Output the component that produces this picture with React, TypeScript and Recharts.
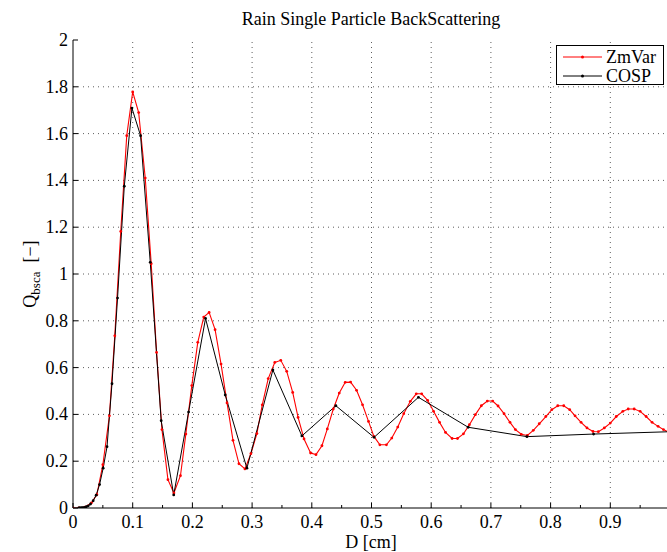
import React from 'react';
import { LineChart, Line, XAxis, YAxis, ReferenceLine, Legend } from 'recharts';

// ZmVar (red) – diameter [cm] and backscattering efficiency
const zmVarD = [
  0, 0.01, 0.02, 0.031, 0.04, 0.05, 0.061, 0.07, 0.08, 0.09,
  0.1, 0.11, 0.121, 0.131, 0.14, 0.149, 0.159, 0.169, 0.18, 0.189,
  0.199, 0.209, 0.219, 0.228, 0.238, 0.248, 0.258, 0.268, 0.278, 0.288,
  0.298, 0.308, 0.317, 0.327, 0.338, 0.348, 0.358, 0.368, 0.377, 0.387,
  0.398, 0.407, 0.417, 0.426, 0.436, 0.446, 0.456, 0.465, 0.475, 0.485,
  0.495, 0.504, 0.514, 0.525, 0.534, 0.544, 0.554, 0.565, 0.575, 0.584,
  0.594, 0.604, 0.614, 0.624, 0.635, 0.644, 0.654, 0.664, 0.674, 0.684,
  0.694, 0.703, 0.712, 0.722, 0.732, 0.741, 0.751, 0.761, 0.771, 0.781,
  0.792, 0.802, 0.812, 0.822, 0.832, 0.841, 0.851, 0.861, 0.871, 0.88,
  0.89, 0.9, 0.91, 0.921, 0.93, 0.94, 0.95, 0.96, 0.97, 0.98,
  0.989, 0.999,
];
const zmVarQ = [
  0, 0.0003, 0.004, 0.022, 0.057, 0.185, 0.394, 0.736, 1.182, 1.591,
  1.778, 1.69, 1.41, 1.044, 0.665, 0.335, 0.121, 0.064, 0.138, 0.316,
  0.523, 0.708, 0.816, 0.836, 0.762, 0.615, 0.449, 0.289, 0.189, 0.167,
  0.232, 0.318, 0.441, 0.553, 0.622, 0.631, 0.584, 0.494, 0.387, 0.295,
  0.235, 0.228, 0.266, 0.338, 0.423, 0.491, 0.537, 0.538, 0.503, 0.441,
  0.37, 0.306, 0.27, 0.27, 0.299, 0.346, 0.403, 0.456, 0.488, 0.488,
  0.46, 0.413, 0.366, 0.323, 0.297, 0.297, 0.317, 0.356, 0.399, 0.437,
  0.457, 0.457, 0.436, 0.403, 0.366, 0.335, 0.315, 0.31, 0.332, 0.36,
  0.391, 0.42, 0.437, 0.437, 0.42, 0.394, 0.366, 0.342, 0.327, 0.326,
  0.342, 0.363, 0.391, 0.413, 0.423, 0.423, 0.413, 0.391, 0.366, 0.349,
  0.335, 0.322,
];

// COSP (black)
const cospD = [
  0.0098, 0.0112, 0.0128, 0.0147, 0.0169, 0.0194, 0.0223, 0.0256, 0.0294, 0.0338,
  0.0388, 0.0445, 0.0505, 0.057, 0.0653, 0.0746, 0.0859, 0.0987, 0.1132, 0.1294,
  0.1477, 0.1687, 0.1936, 0.222, 0.255, 0.2913, 0.3348, 0.3834, 0.4403, 0.5043,
  0.5786, 0.662, 0.7604, 0.872, 1.0,
];
const cospQ = [
  0.0002, 0.0003, 0.0005, 0.001, 0.0017, 0.003, 0.0053, 0.0095, 0.017, 0.031,
  0.055, 0.1, 0.17, 0.262, 0.531, 0.897, 1.375, 1.709, 1.591, 1.05,
  0.373, 0.056, 0.41, 0.81, 0.483, 0.17, 0.59, 0.308, 0.437, 0.302,
  0.473, 0.345, 0.305, 0.316, 0.326,
];

const xTicks = [0, 0.05, 0.1, 0.15, 0.2, 0.25, 0.3, 0.35, 0.4, 0.45, 0.5, 0.55, 0.6, 0.65, 0.7, 0.75, 0.8, 0.85, 0.9, 0.95, 1];
const xGrid = [0.1, 0.2, 0.3, 0.4, 0.5, 0.6, 0.7, 0.8, 0.9];
const yTicks = [0, 0.2, 0.4, 0.6, 0.8, 1, 1.2, 1.4, 1.6, 1.8, 2];
const yGrid = [0.2, 0.4, 0.6, 0.8, 1, 1.2, 1.4, 1.6, 1.8];

const seriesNames = ['ZmVar', 'COSP'];
const seriesColors = ['#ff0000', '#000000'];

const zmVar = zmVarD.map((d, i) => ({ d, q: zmVarQ[i] }));
const cosp = cospD.map((d, i) => ({ d, q: cospQ[i] }));

const serif = "'Liberation Serif', 'DejaVu Serif', serif";
const txt: React.CSSProperties = { fontFamily: serif, fill: '#000', color: '#000' };
const isMajor = (v: number) => Math.abs(v * 10 - Math.round(v * 10)) < 1e-6;
const fmt = (v: number) => String(Number(v.toFixed(1)));

const BottomTick = (props: any) => {
  const { x, y, payload } = props;
  const v = payload.value;
  const major = isMajor(v);
  return (
    <g>
      <line x1={x} y1={y} x2={x} y2={y - (major ? 5 : 3)} stroke="#000" />
      {major && v < 0.95 && (
        <text x={x} y={y + 20} textAnchor="middle" style={{ ...txt, fontSize: 18 }}>
          {fmt(v)}
        </text>
      )}
    </g>
  );
};

const TopTick = (props: any) => {
  const { x, y, payload } = props;
  const major = isMajor(payload.value);
  return <line x1={x} y1={y} x2={x} y2={y + (major ? 5 : 3)} stroke="#000" />;
};

const LeftTick = (props: any) => {
  const { x, y, payload } = props;
  return (
    <g>
      <line x1={x} y1={y} x2={x + 5} y2={y} stroke="#000" />
      <text x={x - 5} y={y + 6} textAnchor="end" style={{ ...txt, fontSize: 18 }}>
        {fmt(payload.value)}
      </text>
    </g>
  );
};

const RightTick = (props: any) => {
  const { x, y } = props;
  return <line x1={x} y1={y} x2={x - 5} y2={y} stroke="#000" />;
};

const renderLegend = () => (
  <div
    style={{
      border: '1px solid #000',
      background: '#fff',
      width: 108,
      height: 40,
      boxSizing: 'border-box',
      paddingTop: 2,
    }}
  >
    {seriesNames.map((name, i) => (
      <div key={name} style={{ display: 'flex', alignItems: 'center', height: 18.5 }}>
        <svg width={40} height={10} style={{ marginLeft: 6 }}>
          <line x1={0} y1={5} x2={39} y2={5} stroke={seriesColors[i]} strokeWidth={1} />
          <circle cx={19.5} cy={5} r={1.5} fill={seriesColors[i]} />
        </svg>
        <span style={{ ...txt, marginLeft: 3, fontSize: 18, lineHeight: '18px' }}>{name}</span>
      </div>
    ))}
  </div>
);

const RedDot = (props: any) => <circle key={props.index} cx={props.cx} cy={props.cy} r={1.4} fill="#ff0000" />;
const BlackDot = (props: any) => <circle key={props.index} cx={props.cx} cy={props.cy} r={1.4} fill="#000" />;

export default function App() {
  return (
    <div style={{ position: 'absolute', left: 0, top: 0, width: 667, height: 552, overflow: 'hidden', background: '#fff' }}>
      <div
        style={{
          ...txt,
          position: 'absolute',
          left: 0,
          top: 9,
          width: 742,
          textAlign: 'center',
          fontSize: 18,
          lineHeight: '20px',
          zIndex: 2,
        }}
      >
        Rain Single Particle BackScattering
      </div>
      <div
        style={{
          ...txt,
          position: 'absolute',
          left: 0,
          top: 533,
          width: 742,
          textAlign: 'center',
          fontSize: 18,
          lineHeight: '18px',
          zIndex: 2,
        }}
      >
        D [cm]
      </div>
      <div
        style={{
          ...txt,
          position: 'absolute',
          left: -20,
          top: 262,
          width: 100,
          height: 24,
          lineHeight: '24px',
          textAlign: 'center',
          fontSize: 18,
          whiteSpace: 'nowrap',
          transform: 'rotate(-90deg)',
          zIndex: 2,
        }}
      >
        Q<span style={{ fontSize: 13, position: 'relative', top: 4 }}>bsca</span>&nbsp;&nbsp;[{'\u2212'}]
      </div>
      <LineChart width={680} height={552} margin={{ top: 40, right: 10, bottom: 0, left: 0 }}>
        <XAxis
          type="number"
          dataKey="d"
          domain={[0, 1]}
          ticks={xTicks}
          interval={0}
          tick={<BottomTick />}
          tickSize={0}
          tickMargin={0}
          tickLine={false}
          axisLine={{ stroke: '#000' }}
          height={44}
          allowDataOverflow
        />
        <XAxis
          xAxisId="top"
          orientation="top"
          type="number"
          dataKey="d"
          domain={[0, 1]}
          ticks={xTicks}
          interval={0}
          tick={<TopTick />}
          tickSize={0}
          tickMargin={0}
          tickLine={false}
          axisLine={{ stroke: '#000' }}
          height={0}
          allowDataOverflow
        />
        <YAxis
          type="number"
          domain={[0, 2]}
          ticks={yTicks}
          interval={0}
          tick={<LeftTick />}
          tickSize={0}
          tickMargin={0}
          tickLine={false}
          axisLine={{ stroke: '#000' }}
          width={73}
          allowDataOverflow
        />
        <YAxis
          yAxisId="right"
          orientation="right"
          type="number"
          domain={[0, 2]}
          ticks={yTicks}
          interval={0}
          tick={<RightTick />}
          tickSize={0}
          tickMargin={0}
          tickLine={false}
          axisLine={{ stroke: '#000' }}
          width={0}
        />
        {xGrid.map((v) => (
          <ReferenceLine key={'x' + v} x={v} stroke="#333" strokeWidth={0.8} strokeDasharray="1 4" />
        ))}
        {yGrid.map((v) => (
          <ReferenceLine key={'y' + v} y={v} stroke="#333" strokeWidth={0.8} strokeDasharray="1 4" />
        ))}
        <Line
          data={zmVar}
          dataKey="q"
          name={seriesNames[0]}
          stroke={seriesColors[0]}
          strokeWidth={1.1}
          dot={<RedDot />}
          activeDot={false}
          isAnimationActive={false}
        />
        <Line
          data={cosp}
          dataKey="q"
          name={seriesNames[1]}
          stroke={seriesColors[1]}
          strokeWidth={1}
          dot={<BlackDot />}
          activeDot={false}
          isAnimationActive={false}
        />
        <Legend
          layout="vertical"
          align="center"
          verticalAlign="middle"
          wrapperStyle={{ left: 556, top: 45, width: 108 }}
          content={renderLegend}
        />
      </LineChart>
    </div>
  );
}
